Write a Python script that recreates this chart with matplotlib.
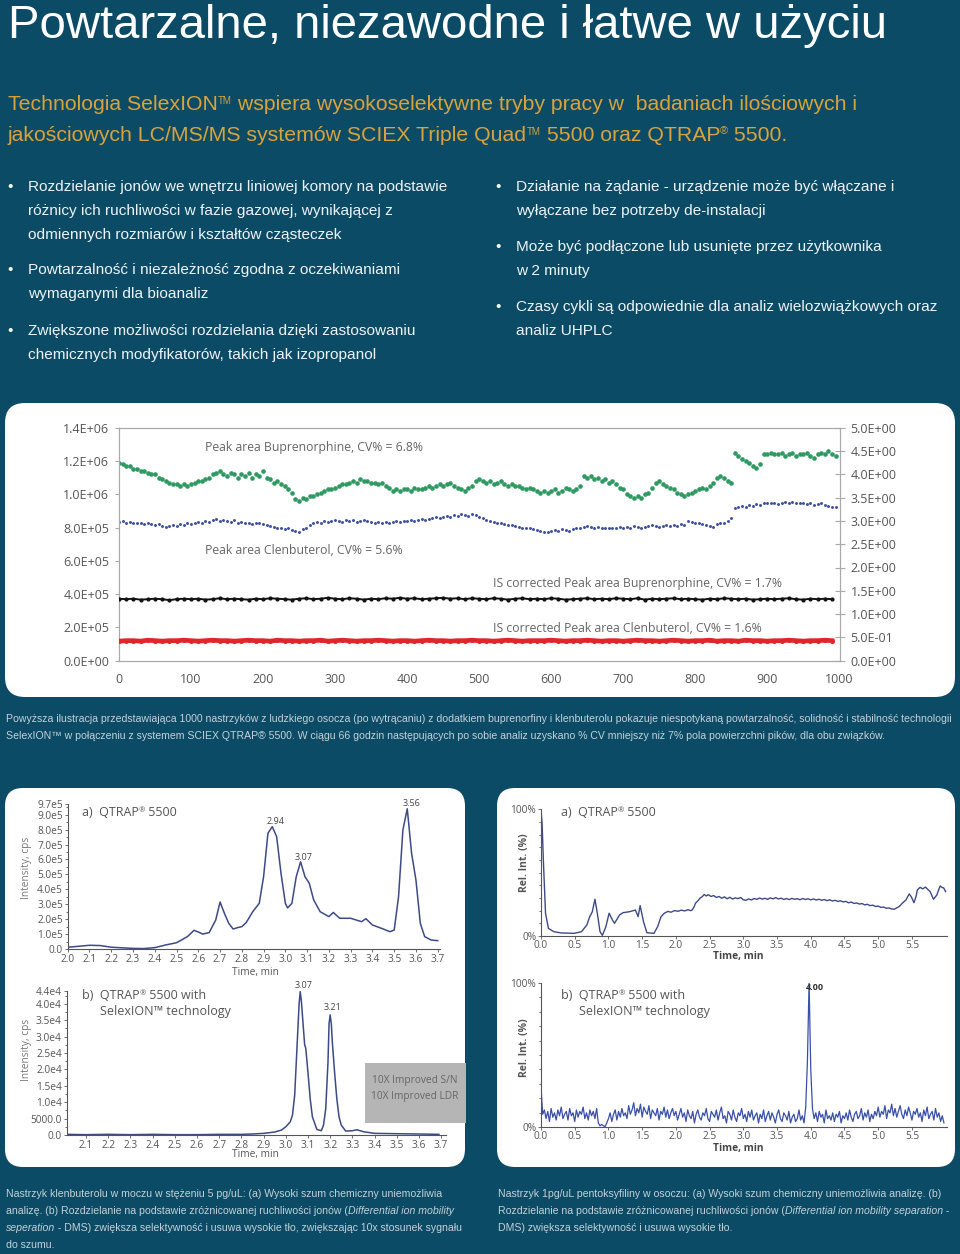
import numpy as np
import matplotlib
matplotlib.use("Agg")
import matplotlib.pyplot as plt
from matplotlib.patches import FancyBboxPatch, Rectangle
from matplotlib.transforms import Affine2D

BG = "#0b4b66"
GOLD = "#d9a23c"
CAP = "#c3d1d8"
HELV = ["Liberation Sans", "DejaVu Sans"]
CHART = ["Open Sans", "DejaVu Sans"]

# ---- top chart: 1000 injections ----
green = [1.19, 1.18, 1.17, 1.17, 1.15, 1.15, 1.14, 1.14, 1.13, 1.12,
         1.12, 1.10, 1.09, 1.08, 1.07, 1.06, 1.06, 1.05, 1.06, 1.05,
         1.06, 1.07, 1.08, 1.08, 1.09, 1.10, 1.12, 1.13, 1.14, 1.12,
         1.11, 1.13, 1.12, 1.10, 1.12, 1.11, 1.13, 1.10, 1.12, 1.11,
         1.14, 1.10, 1.09, 1.07, 1.08, 1.06, 1.05, 1.03, 1.01, 0.97,
         0.96, 0.98, 0.97, 0.99, 0.99, 1.00, 1.01, 1.02, 1.03, 1.03,
         1.04, 1.05, 1.06, 1.06, 1.07, 1.08, 1.07, 1.09, 1.08, 1.08,
         1.07, 1.07, 1.06, 1.07, 1.05, 1.04, 1.02, 1.03, 1.02, 1.03,
         1.03, 1.02, 1.04, 1.03, 1.03, 1.04, 1.05, 1.04, 1.05, 1.06,
         1.05, 1.06, 1.07, 1.05, 1.04, 1.03, 1.02, 1.04, 1.05, 1.08,
         1.09, 1.08, 1.07, 1.08, 1.06, 1.07, 1.08, 1.06, 1.05, 1.06,
         1.05, 1.05, 1.04, 1.03, 1.04, 1.03, 1.02, 1.01, 1.02, 1.01,
         1.02, 1.03, 1.01, 1.02, 1.04, 1.03, 1.02, 1.03, 1.05, 1.11,
         1.10, 1.11, 1.09, 1.10, 1.08, 1.09, 1.07, 1.08, 1.06, 1.04,
         1.03, 1.00, 0.99, 0.98, 0.99, 0.98, 1.00, 1.01, 1.04, 1.07,
         1.08, 1.06, 1.05, 1.04, 1.03, 1.01, 1.00, 0.99, 1.00, 1.01,
         1.02, 1.03, 1.04, 1.03, 1.05, 1.07, 1.10, 1.11, 1.10, 1.08,
         1.07, 1.25, 1.23, 1.21, 1.20, 1.19, 1.17, 1.16, 1.18, 1.24,
         1.24, 1.25, 1.24, 1.24, 1.25, 1.23, 1.24, 1.25, 1.23, 1.24,
         1.24, 1.25, 1.23, 1.22, 1.24, 1.25, 1.24, 1.26, 1.24, 1.23]
blue = [0.835, 0.84, 0.83, 0.835, 0.83, 0.825, 0.83, 0.82, 0.825, 0.82,
        0.815, 0.82, 0.81, 0.805, 0.81, 0.815, 0.81, 0.82, 0.815, 0.825,
        0.82, 0.83, 0.835, 0.83, 0.84, 0.835, 0.845, 0.85, 0.84, 0.845,
        0.84, 0.835, 0.845, 0.83, 0.835, 0.825, 0.83, 0.82, 0.825, 0.825,
        0.82, 0.815, 0.81, 0.805, 0.80, 0.795, 0.79, 0.795, 0.785, 0.78,
        0.775, 0.79, 0.80, 0.815, 0.83, 0.835, 0.83, 0.84, 0.835, 0.84,
        0.845, 0.84, 0.835, 0.845, 0.84, 0.845, 0.835, 0.84, 0.845, 0.84,
        0.835, 0.83, 0.835, 0.83, 0.835, 0.825, 0.835, 0.84, 0.835, 0.84,
        0.84, 0.845, 0.84, 0.845, 0.85, 0.845, 0.85, 0.86, 0.865, 0.86,
        0.865, 0.87, 0.865, 0.875, 0.87, 0.88, 0.875, 0.87, 0.88, 0.875,
        0.865, 0.855, 0.845, 0.84, 0.835, 0.83, 0.825, 0.82, 0.815, 0.815,
        0.81, 0.805, 0.80, 0.80, 0.795, 0.79, 0.785, 0.78, 0.775, 0.775,
        0.78, 0.785, 0.78, 0.79, 0.785, 0.78, 0.79, 0.795, 0.80, 0.805,
        0.81, 0.805, 0.80, 0.805, 0.80, 0.80, 0.795, 0.80, 0.80, 0.805,
        0.80, 0.805, 0.80, 0.81, 0.805, 0.80, 0.805, 0.81, 0.815, 0.81,
        0.805, 0.81, 0.815, 0.81, 0.815, 0.81, 0.82, 0.815, 0.84, 0.835,
        0.83, 0.825, 0.82, 0.815, 0.81, 0.805, 0.82, 0.825, 0.83, 0.84,
        0.855, 0.92, 0.925, 0.93, 0.925, 0.935, 0.93, 0.94, 0.935, 0.945,
        0.945, 0.945, 0.945, 0.94, 0.95, 0.955, 0.95, 0.955, 0.945, 0.95,
        0.945, 0.94, 0.945, 0.935, 0.94, 0.945, 0.935, 0.93, 0.925, 0.925]
black = [1.33, 1.32, 1.33, 1.31, 1.32, 1.33, 1.32, 1.30, 1.32, 1.33,
         1.32, 1.33, 1.31, 1.32, 1.34, 1.32, 1.33, 1.32, 1.31, 1.33,
         1.32, 1.34, 1.33, 1.32, 1.31, 1.33, 1.34, 1.32, 1.33, 1.35,
         1.33, 1.32, 1.34, 1.33, 1.31, 1.33, 1.32, 1.34, 1.33, 1.35,
         1.33, 1.34, 1.32, 1.33, 1.34, 1.35, 1.33, 1.34, 1.32, 1.34,
         1.33, 1.32, 1.34, 1.33, 1.31, 1.33, 1.34, 1.32, 1.33, 1.32,
         1.34, 1.33, 1.31, 1.32, 1.33, 1.34, 1.32, 1.33, 1.32, 1.34,
         1.33, 1.32, 1.34, 1.31, 1.33, 1.32, 1.33, 1.34, 1.32, 1.33,
         1.32, 1.31, 1.33, 1.32, 1.34, 1.33, 1.32, 1.33, 1.31, 1.32,
         1.33, 1.32, 1.33, 1.34, 1.32, 1.31, 1.33, 1.32, 1.33, 1.32]
red = [0.42, 0.43, 0.43, 0.42, 0.44, 0.43, 0.42, 0.43, 0.43, 0.44,
       0.43, 0.42, 0.43, 0.44, 0.43, 0.43, 0.42, 0.43, 0.44, 0.43,
       0.43, 0.42, 0.44, 0.43, 0.43, 0.42, 0.43, 0.43, 0.44, 0.42,
       0.43, 0.44, 0.43, 0.42, 0.43, 0.43, 0.44, 0.43, 0.42, 0.43,
       0.43, 0.42, 0.43, 0.44, 0.43, 0.43, 0.42, 0.43, 0.43, 0.44,
       0.43, 0.43, 0.42, 0.43, 0.44, 0.43, 0.42, 0.43, 0.43, 0.43,
       0.44, 0.43, 0.42, 0.43, 0.43, 0.44, 0.43, 0.42, 0.43, 0.43,
       0.42, 0.43, 0.44, 0.43, 0.43, 0.42, 0.43, 0.44, 0.43, 0.42,
       0.43, 0.43, 0.44, 0.42, 0.43, 0.43, 0.42, 0.44, 0.43, 0.43,
       0.42, 0.43, 0.43, 0.44, 0.43, 0.42, 0.43, 0.43, 0.44, 0.43]
inj5 = np.arange(0, 1000, 5)
inj10 = np.arange(0, 1000, 10)
left_ticks = [0, 2e5, 4e5, 6e5, 8e5, 1e6, 1.2e6, 1.4e6]
right_ticks = [0, 0.5, 1, 1.5, 2, 2.5, 3, 3.5, 4, 4.5, 5]

# ---- chromatogram a) left, intensity in 1e5 cps ----
tA = [2.0, 2.05, 2.1, 2.15, 2.2, 2.3, 2.35, 2.4, 2.45, 2.5,
      2.55, 2.58, 2.6, 2.62, 2.65, 2.68, 2.70, 2.72, 2.74, 2.76,
      2.78, 2.8, 2.82, 2.85, 2.88, 2.90, 2.92, 2.94, 2.96, 2.98,
      3.0, 3.01, 3.03, 3.05, 3.07, 3.09, 3.11, 3.13, 3.16, 3.2,
      3.22, 3.25, 3.3, 3.35, 3.37, 3.4, 3.45, 3.48, 3.5, 3.52,
      3.54, 3.56, 3.58, 3.6, 3.62, 3.64, 3.67, 3.7]
iA = [0.12, 0.18, 0.25, 0.23, 0.12, 0.04, 0.03, 0.09, 0.27, 0.42,
      0.83, 1.25, 1.14, 1.0, 1.1, 1.94, 3.15, 2.39, 1.72, 1.34,
      1.43, 1.5, 1.77, 2.5, 3.06, 4.85, 7.76, 8.2, 7.53, 5.07,
      3.06, 2.75, 3.06, 4.85, 5.85, 4.85, 4.4, 3.29, 2.5, 2.17,
      2.45, 2.06, 2.06, 1.83, 2.03, 1.61, 1.34, 1.16, 1.27, 3.5,
      7.98, 9.4, 6.41, 4.62, 1.72, 0.83, 0.6, 0.56]
# ---- chromatogram b) left, intensity in 1e4 cps ----
tB = [2.013, 2.1, 2.2, 2.3, 2.4, 2.5, 2.6, 2.7, 2.8, 2.85, 2.9, 2.95, 2.98,
      3.0, 3.02, 3.03, 3.04, 3.05, 3.06, 3.065, 3.07, 3.08, 3.085, 3.09,
      3.10, 3.11, 3.12, 3.14, 3.16, 3.17, 3.18, 3.19, 3.195, 3.2, 3.205,
      3.21, 3.22, 3.23, 3.24, 3.25, 3.27, 3.3, 3.32, 3.35, 3.4, 3.5, 3.6, 3.69]
iB = [0.02, 0.01, 0.02, 0.01, 0.02, 0.01, 0.01, 0.02, 0.02, 0.03, 0.05, 0.09, 0.15,
      0.25, 0.4, 0.6, 1.2, 2.6, 4.0, 4.37, 4.1, 3.2, 2.75, 2.65,
      1.9, 1.1, 0.55, 0.17, 0.13, 0.3, 0.8, 2.2, 3.4, 3.66, 3.4,
      2.8, 1.9, 1.1, 0.55, 0.3, 0.12, 0.13, 0.16, 0.1, 0.05, 0.04, 0.03, 0.02]
# ---- chromatogram a) right, relative intensity % ----
tC = [0.0, 0.016, 0.037, 0.067, 0.11, 0.19, 0.30, 0.49, 0.60, 0.68,
      0.72, 0.76, 0.80, 0.835, 0.875, 0.91, 0.96, 1.01, 1.06, 1.09,
      1.165, 1.215, 1.315, 1.40, 1.44, 1.47, 1.52, 1.57, 1.675, 1.73,
      1.78, 1.83, 1.88, 1.93, 1.98, 2.03, 2.08, 2.13, 2.18, 2.22,
      2.24, 2.27, 2.29, 2.33, 2.36, 2.39, 2.42, 2.45, 2.48, 2.52,
      2.56, 2.6, 2.64, 2.68, 2.72, 2.76, 2.8, 2.84, 2.88, 2.92,
      2.96, 3.0, 3.04, 3.08, 3.12, 3.16, 3.2, 3.24, 3.28, 3.32,
      3.36, 3.4, 3.44, 3.48, 3.52, 3.56, 3.6, 3.64, 3.68, 3.72,
      3.76, 3.8, 3.84, 3.88, 3.92, 3.96, 4.0, 4.04, 4.08, 4.12,
      4.16, 4.2, 4.24, 4.28, 4.32, 4.36, 4.4, 4.44, 4.48, 4.52,
      4.56, 4.6, 4.64, 4.68, 4.72, 4.76, 4.8, 4.84, 4.88, 4.92,
      4.96, 5.0, 5.04, 5.08, 5.12, 5.16, 5.2, 5.24, 5.31, 5.36,
      5.41, 5.46, 5.49, 5.53, 5.56, 5.58, 5.62, 5.66, 5.7, 5.72,
      5.77, 5.82, 5.87, 5.9, 5.92, 5.95, 5.97, 6.0]
iC = [99.5, 89, 57, 18, 6, 3.4, 2.4, 2.1, 3.4, 8.7,
      15, 19, 29, 18, 3.4, 0.5, 7, 18, 12.6, 10,
      16.6, 18.4, 19.2, 20.5, 15.3, 24, 11.3, 2.6, 2.1, 7.4,
      15.3, 18, 19.4, 18.8, 20.1, 19.5, 20.4, 19.8, 20.7, 20.0,
      20.5, 23, 25.8, 28, 30, 31, 32.8, 31.6, 32.6, 31.2,
      31.9, 30.4, 31.2, 29.8, 30.9, 29.4, 30.6, 29.2, 30.1, 29.5,
      30.4, 28.6, 28.2, 29.3, 28.4, 29.6, 28.9, 30.0, 29.1, 29.8,
      28.9, 30.1, 29.3, 30.3, 29.2, 29.9, 28.8, 29.6, 28.7, 29.7,
      28.9, 29.5, 28.6, 29.6, 28.8, 29.4, 28.5, 29.3, 28.4, 29.0,
      28.2, 28.8, 27.9, 28.6, 27.6, 28.2, 27.3, 27.8, 26.9, 27.3,
      26.2, 26.8, 25.7, 26.1, 25.2, 25.6, 24.6, 25.0, 24.0, 24.3,
      23.3, 23.6, 22.6, 22.8, 21.9, 22.1, 21.3, 21.2, 23.2, 26,
      28.4, 33.2, 31, 26.3, 31, 36.3, 38.4, 37.2, 38.6, 37.6,
      35, 29, 32.4, 37, 39.5, 38.2, 38, 35]
# ---- chromatogram b) right, relative intensity %, every 0.025 min ----
iD = [28, 9, 12, 6, 11, 4, 13, 7, 10, 5, 12, 8, 14, 6, 9, 11, 5, 13, 8, 10,
      4, 12, 7, 11, 9, 14, 6, 10, 5, 12, 8, 11, 6, 13, 3, 1, 2, 1, 0.5, 3,
      6, 10, 4, 9, 12, 5, 11, 7, 13, 8, 10, 6, 15, 9, 12, 17, 8, 13, 10, 16,
      7, 14, 11, 9, 15, 6, 12, 10, 8, 13, 5, 11, 9, 14, 7, 12, 6, 10, 13, 8,
      11, 5, 9, 13, 7, 10, 4, 12, 8, 6, 11, 3, 9, 12, 7, 5, 10, 8, 13, 6,
      4, 11, 9, 7, 12, 5, 10, 14, 6, 8, 3, 11, 9, 5, 12, 7, 4, 10, 8, 13,
      6, 9, 4, 11, 7, 12, 5, 8, 10, 3, 9, 6, 12, 4, 8, 11, 5, 10, 7, 3,
      9, 12, 6, 4, 10, 8, 5, 11, 3, 7, 9, 4, 6, 12, 5, 8, 3, 14, 45, 100,
      40, 13, 6, 10, 4, 11, 7, 9, 3, 12, 6, 8, 5, 10, 4, 9, 7, 11, 3, 8,
      6, 10, 5, 12, 7, 4, 9, 11, 6, 8, 13, 5, 10, 7, 12, 4, 9, 6, 11, 8,
      14, 7, 11, 9, 15, 6, 12, 10, 16, 8, 13, 7, 11, 15, 9, 6, 12, 8, 14, 10,
      5, 11, 9, 13, 7, 10, 4, 12, 8, 14, 6, 9, 11, 5, 13, 7, 10, 4, 8, 3]
tD = np.arange(len(iD)) * 0.025

W, H = 960, 1254
fig = plt.figure(figsize=(9.6, 12.54), dpi=100, facecolor=BG)
# pixel coordinates, origin top-left
pxT = Affine2D().scale(1 / 100, -1 / 100).translate(0, 12.54) + fig.dpi_scale_trans
R = fig.canvas.get_renderer()


def box(x0, y0, x1, y1):
    return [x0 / W, 1 - y1 / H, (x1 - x0) / W, (y1 - y0) / H]


def txt(x, y, s, **kw):
    kw.setdefault("va", "center")
    return fig.text(x, y, s, transform=pxT, **kw)


def runs(x, y, parts, **kw):
    for s, opt in parts:
        k = dict(kw)
        k.update(opt)
        dy = k.pop("dy", 0)
        t = fig.text(x, y - dy, s, transform=pxT, va="baseline", **k)
        x += t.get_window_extent(renderer=R).width
    return x


def fit_size(s, width, **kw):
    t = fig.text(0, 0, s, fontsize=10, **kw)
    w = t.get_window_extent(renderer=R).width
    t.remove()
    return 10 * width / w


def panel(x, y, w, h, r=18):
    fig.patches.append(FancyBboxPatch((x, y), w, h, boxstyle=f"round,pad=0,rounding_size={r}",
                                      transform=pxT, fc="white", ec="none", zorder=-1))


# ---- header ----
txt(8, 38, "Powtarzalne, niezawodne i łatwe w użyciu", va="baseline", fontsize=34,
    color="white", family=HELV)
tm = {"fontsize": 7, "dy": 6}
runs(8, 110, [("Technologia SelexION", {}), ("TM", tm),
              (" wspiera wysokoselektywne tryby pracy w  badaniach ilościowych i", {})],
     fontsize=15.3, color=GOLD, family=HELV)
runs(8, 141, [("jakościowych LC/MS/MS systemów SCIEX Triple Quad", {}), ("TM", tm),
              (" 5500 oraz QTRAP", {}), ("®", {"fontsize": 8, "dy": 7}), (" 5500.", {})],
     fontsize=15.3, color=GOLD, family=HELV)

left_b = [[("Rozdzielanie jonów we wnętrzu liniowej komory na podstawie", 187),
           ("różnicy ich ruchliwości w fazie gazowej, wynikającej z", 211),
           ("odmiennych rozmiarów i kształtów cząsteczek", 235)],
          [("Powtarzalność i niezależność zgodna z oczekiwaniami", 270),
           ("wymaganymi dla bioanaliz", 294)],
          [("Zwiększone możliwości rozdzielania dzięki zastosowaniu", 331),
           ("chemicznych modyfikatorów, takich jak izopropanol", 355)]]
right_b = [[("Działanie na żądanie - urządzenie może być włączane i", 187),
            ("wyłączane bez potrzeby de-instalacji", 211)],
           [("Może być podłączone lub usunięte przez użytkownika", 247),
            ("w 2 minuty", 271)],
           [("Czasy cykli są odpowiednie dla analiz wielozwiążkowych oraz", 307),
            ("analiz UHPLC", 331)]]
for bx, tx, items in [(7, 28, left_b), (495, 516, right_b)]:
    for item in items:
        txt(bx, item[0][1], "•", fontsize=11, color="white", family=HELV)
        for s, y in item:
            txt(tx, y, s, fontsize=11.1, color="#eef3f6", family=HELV)

# ---- top scatter chart ----
panel(5, 403, 950, 294, 20)
ax = fig.add_axes(box(119, 427.7, 840, 660.7))
ax.set_facecolor("none")
ax.scatter(inj5, np.array(green) * 1e6, s=11, color="#2e9a62", lw=0, zorder=3)
ax.scatter(inj5, np.array(blue) * 1e6, s=4.5, color="#3b4f9f", lw=0, zorder=3)
ax.set_xlim(0, 1001)
ax.set_ylim(0, 1.4e6)
ax.set_yticks(left_ticks)
ax.set_yticklabels([f"{v:.1E}" for v in left_ticks])
ax.set_xticks(range(0, 1001, 100))
for sp in ax.spines.values():
    sp.set_color("#a8a8a8")
ax.tick_params(axis="y", length=3, color="#a8a8a8", labelsize=9, labelcolor="#555", pad=4)
ax.tick_params(axis="x", length=0, labelsize=9, labelcolor="#555", pad=9)
for lab in ax.get_xticklabels() + ax.get_yticklabels():
    lab.set_family(CHART)
ax2 = ax.twinx()
ax2.plot(inj10, black, color="#111", lw=1.4, marker="o", ms=2, zorder=3)
ax2.plot(inj10, red, color="#e0262a", lw=3.4, marker="o", ms=2.6, zorder=3)
ax2.set_ylim(0, 5)
ax2.set_yticks(right_ticks)
ax2.set_yticklabels([f"{v:.1E}" for v in right_ticks])
for sp in ax2.spines.values():
    sp.set_color("#a8a8a8")
ax2.tick_params(axis="y", direction="inout", length=7, color="#a8a8a8", labelsize=9,
                labelcolor="#555", pad=4)
for lab in ax2.get_yticklabels():
    lab.set_family(CHART)
for x, y, s in [(205, 448, "Peak area Buprenorphine, CV% = 6.8%"),
                (205, 551, "Peak area Clenbuterol, CV% = 5.6%"),
                (493, 583, "IS corrected Peak area Buprenorphine, CV% = 1.7%"),
                (493, 628, "IS corrected Peak area Clenbuterol, CV% = 1.6%")]:
    txt(x, y, s, fontsize=8.8, color="#666", family=CHART)

cap1 = ("Powyższa ilustracja przedstawiająca 1000 nastrzyków z ludzkiego osocza (po wytrącaniu) "
        "z dodatkiem buprenorfiny i klenbuterolu pokazuje niespotykaną powtarzalność, solidność i "
        "stabilność technologii")
cap2 = ("SelexION™ w połączeniu z systemem SCIEX QTRAP® 5500. W ciągu 66 godzin następujących po "
        "sobie analiz uzyskano % CV mniejszy niż 7% pola powierzchni pików, dla obu związków.")
fs_top = fit_size(cap1, 946, family=HELV)
txt(6, 719, cap1, fontsize=fs_top, color=CAP, family=HELV)
txt(6, 736, cap2, fontsize=fs_top, color=CAP, family=HELV)

# ---- bottom panels ----
panel(5, 788, 460, 379)
panel(497, 788, 458, 379)
LINE = "#3d4a86"


def chrom_axes(rect, xlim, ylim):
    a = fig.add_axes(box(*rect))
    a.set_facecolor("none")
    a.set_xlim(*xlim)
    a.set_ylim(*ylim)
    for s in ["top", "right"]:
        a.spines[s].set_visible(False)
    for s in ["left", "bottom"]:
        a.spines[s].set_color("#555")
        a.spines[s].set_linewidth(0.8)
    a.tick_params(length=2, width=0.6, color="#555", labelsize=7.3, labelcolor="#555", pad=1.5)
    a.tick_params(which="minor", length=1.5, width=0.6, color="#555")
    return a


def fam(a):
    for lab in a.get_xticklabels() + a.get_yticklabels():
        lab.set_family(CHART)


# a) left
axA = chrom_axes((67.7, 804.3, 439.9, 949), (2.0, 3.71), (0, 9.7e5))
axA.plot(tA, np.array(iA) * 1e5, color=LINE, lw=1.1)
yA = [0, 1e5, 2e5, 3e5, 4e5, 5e5, 6e5, 7e5, 8e5, 9e5, 9.7e5]
axA.set_yticks(yA)
axA.set_yticklabels(["0.0"] + [f"{v / 1e5:.1f}e5" for v in yA[1:]])
axA.set_yticks(np.arange(0.5e5, 9.7e5, 1e5), minor=True)
axA.set_xticks(np.round(np.arange(2.0, 3.71, 0.1), 1))
axA.set_xticklabels([f"{v:.1f}" for v in np.arange(2.0, 3.71, 0.1)])
fam(axA)
for x, y, s in [(276, 822, "2.94"), (304, 858, "3.07"), (412, 804, "3.56")]:
    txt(x, y, s, fontsize=6.5, color="#444", ha="center", family=CHART)
sup = {"fontsize": 5.5, "dy": 4}
runs(82, 816, [("a)  QTRAP", {}), ("®", sup), (" 5500", {})], fontsize=9, color="#555", family=CHART)
txt(26, 868, "Intensity, cps", fontsize=7.3, color="#777", rotation=90, ha="center", family=CHART)
txt(255, 972, "Time, min", fontsize=7.3, color="#555", ha="center", family=CHART)

# b) left
axB = chrom_axes((66.7, 990.7, 445.6, 1135), (2.013, 3.72), (0, 4.4e4))
axB.plot(tB, np.array(iB) * 1e4, color=LINE, lw=1.1)
yB = [0, 5000, 1e4, 1.5e4, 2e4, 2.5e4, 3e4, 3.5e4, 4e4, 4.4e4]
axB.set_yticks(yB)
axB.set_yticklabels(["0.0", "5000.0"] + [f"{v / 1e4:.1f}e4" for v in yB[2:]])
axB.set_yticks(np.arange(2500, 4.4e4, 5000), minor=True)
axB.set_xticks(np.round(np.arange(2.1, 3.71, 0.1), 1))
axB.set_xticklabels([f"{v:.1f}" for v in np.arange(2.1, 3.71, 0.1)])
fam(axB)
for x, y, s in [(304, 986, "3.07"), (333, 1008, "3.21")]:
    txt(x, y, s, fontsize=6.5, color="#444", ha="center", family=CHART)
runs(82, 999, [("b)  QTRAP", {}), ("®", sup), (" 5500 with", {})], fontsize=9, color="#555", family=CHART)
txt(100, 1011, "SelexION™ technology", fontsize=9, color="#555", family=CHART)
txt(26, 1050, "Intensity, cps", fontsize=7.3, color="#777", rotation=90, ha="center", family=CHART)
txt(255, 1155, "Time, min", fontsize=7.3, color="#555", ha="center", family=CHART)
fig.patches.append(Rectangle((365, 1063), 101, 60, transform=pxT, fc="#b5b5b5", ec="none", zorder=2))
txt(415, 1081, "10X Improved S/N", fontsize=7.3, color="#666", ha="center", family=CHART, zorder=3)
txt(415, 1097, "10X Improved LDR", fontsize=7.3, color="#666", ha="center", family=CHART, zorder=3)

# a) / b) right
xr = np.round(np.arange(0, 5.51, 0.5), 1)
for rect, t, v, lw, col in [((541, 809.3, 947, 936), tC, iC, 1.0, LINE),
                            ((541, 982.7, 947, 1127.3), tD, iD, 0.9, "#3a4fa6")]:
    a = chrom_axes(rect, (0, 6.02), (0, 100))
    a.plot(t, v, color=col, lw=lw)
    a.set_yticks([0, 100])
    a.set_yticklabels(["0%", "100%"])
    a.set_yticks(range(10, 100, 10), minor=True)
    a.set_xticks(xr)
    a.set_xticklabels([f"{x:.1f}" for x in xr])
    a.tick_params(axis="x", pad=1)
    fam(a)
runs(561, 816, [("a)  QTRAP", {}), ("®", sup), (" 5500", {})], fontsize=9, color="#555", family=CHART)
runs(561, 999, [("b)  QTRAP", {}), ("®", sup), (" 5500 with", {})], fontsize=9, color="#555", family=CHART)
txt(579, 1011, "SelexION™ technology", fontsize=9, color="#555", family=CHART)
txt(815, 987, "4.00", fontsize=6.5, color="#333", ha="center", family=CHART, weight="bold")
for y in (863, 1048):
    txt(525, y, "Rel. Int. (%)", fontsize=7.5, color="#555", rotation=90, ha="center",
        family=CHART, weight="bold")
for y in (956, 1148):
    txt(738, y, "Time, min", fontsize=7.3, color="#444", ha="center", family=CHART, weight="bold")

# ---- captions ----
capL1 = "Nastrzyk klenbuterolu w moczu w stężeniu 5 pg/uL: (a) Wysoki szum chemiczny uniemożliwia"
fs_bot = fit_size(capL1, 437, family=HELV)
ck = dict(fontsize=fs_bot, color=CAP, family=HELV)
it = {"style": "italic"}
runs(6, 1197, [(capL1, {})], **ck)
runs(6, 1214, [("analizę. (b) Rozdzielanie na podstawie zróżnicowanej ruchliwości jonów (", {}),
               ("Differential ion mobility", it)], **ck)
runs(6, 1231, [("seperation", it), (" - DMS) zwiększa selektywność i usuwa wysokie tło, zwiększając 10x stosunek sygnału", {})], **ck)
runs(6, 1248, [("do szumu.", {})], **ck)
runs(498, 1197, [("Nastrzyk 1pg/uL pentoksyfiliny w osoczu: (a) Wysoki szum chemiczny uniemożliwia analizę. (b)", {})], **ck)
runs(498, 1214, [("Rozdzielanie na podstawie zróżnicowanej ruchliwości jonów (", {}),
                 ("Differential ion mobility separation", it), (" -", {})], **ck)
runs(498, 1231, [("DMS) zwiększa selektywność i usuwa wysokie tło.", {})], **ck)

fig.savefig("out.png", dpi=100, facecolor=BG)
